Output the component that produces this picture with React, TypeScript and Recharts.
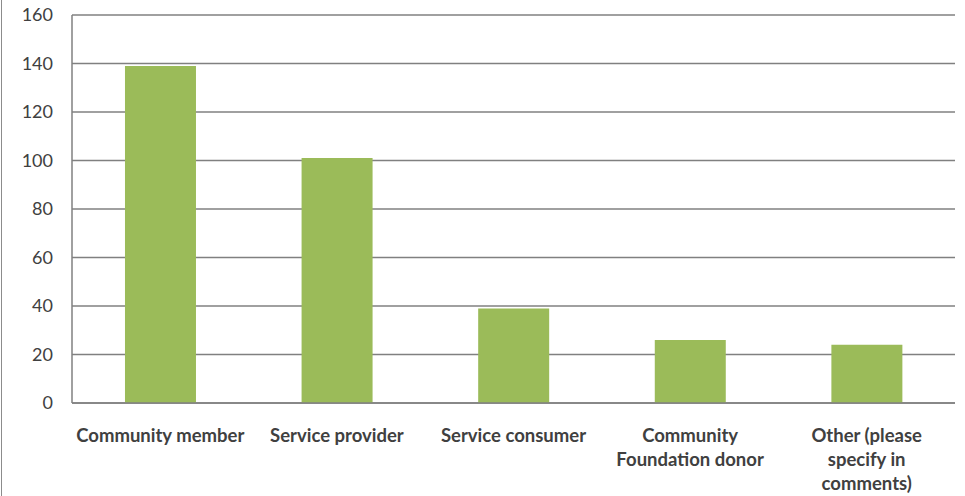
import { BarChart, Bar, XAxis, YAxis, CartesianGrid } from 'recharts';

const categories = [
  'Community member',
  'Service provider',
  'Service consumer',
  'Community\nFoundation donor',
  'Other (please\nspecify in\ncomments)',
];
const responses = [139, 101, 39, 26, 24];
const yTicks = [0, 20, 40, 60, 80, 100, 120, 140, 160];

const data = categories.map((name, i) => ({ name, value: responses[i] }));

const FONT = 'Lato, "Open Sans", sans-serif';

function CategoryTick(props: any) {
  const { x, y, payload } = props;
  const lines = String(payload.value).split('\n');
  return (
    <text
      x={x}
      y={y + 31}
      textAnchor="middle"
      fontFamily={FONT}
      fontSize={18.5}
      fontWeight={700}
      fill="#404040"
    >
      {lines.map((line, i) => (
        <tspan key={i} x={x} dy={i === 0 ? 0 : 24}>
          {line}
        </tspan>
      ))}
    </text>
  );
}

export default function App() {
  return (
    <div
      style={{
        position: 'absolute',
        left: 0,
        top: 0,
        width: 965,
        height: 496,
        background: '#fff',
        borderLeft: '1px solid #8c8c8c',
        boxSizing: 'border-box',
        marginLeft: 1,
      }}
    >
      <BarChart
        width={963}
        height={496}
        data={data}
        margin={{ top: 15, right: 10, bottom: 3, left: 10 }}
        barCategoryGap="30%"
      >
        <CartesianGrid vertical={false} stroke="#808080" strokeWidth={1.3} />
        <XAxis
          dataKey="name"
          interval={0}
          height={90}
          axisLine={{ stroke: '#808080', strokeWidth: 1.5 }}
          tickLine={false}
          tick={<CategoryTick />}
        />
        <YAxis
          domain={[0, 160]}
          ticks={yTicks}
          width={60}
          axisLine={{ stroke: '#808080', strokeWidth: 1.5 }}
          tickLine={false}
          tick={{ fontFamily: FONT, fontSize: 18, fill: '#404040' }}
          tickMargin={13}
        />
        <Bar dataKey="value" fill="#9BBB59" isAnimationActive={false} />
      </BarChart>
    </div>
  );
}
